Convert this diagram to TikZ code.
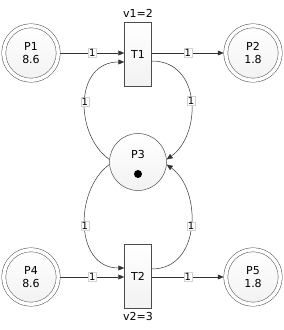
\documentclass[tikz,border=0pt]{standalone}
\usepackage{fontspec}
\setmainfont{DejaVu Sans}
\usetikzlibrary{arrows.meta, positioning}

\begin{document}
\begin{tikzpicture}[
    x=1pt, y=1pt,
    font=\fontsize{11}{13}\selectfont,
    every node/.style={align=center},
    place/.style ={circle, draw=gray!60!black, line width=0.5pt,
                   top color=white, bottom color=gray!10,
                   minimum size=54.5pt, inner sep=0pt,
                   double=white, double distance=3.5pt, outer sep=2pt},
    pool/.style  ={circle, draw=gray!60!black, line width=0.5pt,
                   top color=white, bottom color=gray!10,
                   minimum size=57pt, inner sep=0pt},
    trans/.style ={rectangle, draw=gray!60!black, line width=0.5pt,
                   top color=white, bottom color=gray!10,
                   minimum width=27pt, minimum height=64pt, inner sep=0pt},
    wt/.style    ={fill=white, draw=gray!35, line width=0.3pt,
                   inner sep=0.8pt, font=\fontsize{10}{10}\selectfont},
    arc/.style   ={-{Triangle[length=6pt, width=5pt]}, draw=gray!40!black,
                   line width=0.5pt}
]
\useasboundingbox (0,0) rectangle (284,330);

% top row
\node[place] (p1) at (31,277)  {P1\\8.6};
\node[trans] (t1) at (138,276) {T1};
\node[place] (p2) at (253,277) {P2\\1.8};
\node[above=1pt of t1] (v1) {v1=2};

% shared place
\node[pool] (p3) at (138,168) {};
\node at (138,176) (p3name) {P3};
\fill (138,156) circle (4pt);

% bottom row
\node[place] (p4) at (31,53)  {P4\\8.6};
\node[trans] (t2) at (138,54) {T2};
\node[place] (p5) at (253,53) {P5\\1.8};
\node[below=1pt of t2] (v2) {v2=3};

% straight arcs
\draw[arc] (p1) -- node[wt] {1} (t1.west |- p1);
\draw[arc] (t1.east |- p2) -- node[wt] {1} (p2);
\draw[arc] (p4) -- node[wt] {1} (t2.west |- p4);
\draw[arc] (t2.east |- p5) -- node[wt] {1} (p5);

% loops through P3
\draw[arc] (p3.175) .. controls +(-35,25) and +(-50,0) .. node[wt] {1} ([yshift=-8pt]t1.west);
\draw[arc] ([yshift=-7pt]t1.east) .. controls +(50,0) and +(35,25) .. node[wt] {1} (p3.5);
\draw[arc] (p3.185) .. controls +(-35,-25) and +(-50,0) .. node[wt] {1} ([yshift=8pt]t2.west);
\draw[arc] ([yshift=7pt]t2.east) .. controls +(50,0) and +(35,-25) .. node[wt] {1} (p3.-5);
\end{tikzpicture}
\end{document}
